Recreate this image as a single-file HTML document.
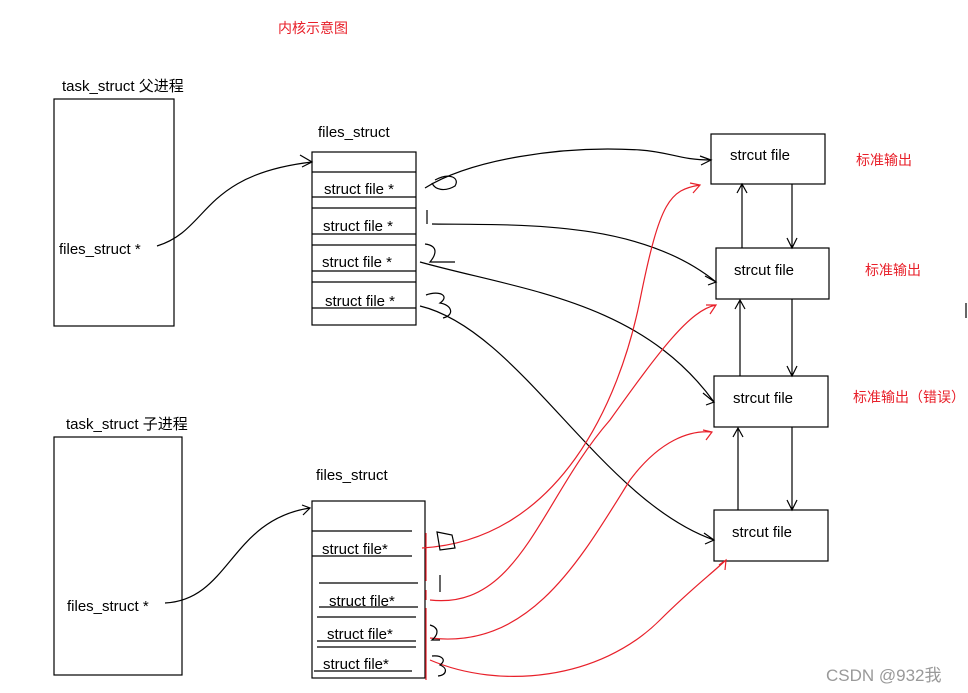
<!DOCTYPE html>
<html><head><meta charset="utf-8"><style>
html,body{margin:0;padding:0;background:#fff;}
svg{display:block;}
text{font-family:"Liberation Sans","Noto Sans CJK SC",sans-serif;font-size:15px;fill:#000;}
.r{fill:#e8202a;font-size:14px;}
</style></head><body>
<svg width="968" height="693" viewBox="0 0 968 693">
<g fill="none" stroke="#000" stroke-width="1.2">
<rect x="54" y="99" width="120" height="227"/>
<rect x="54" y="437" width="128" height="238"/>
<rect x="312" y="152" width="104" height="173"/>
<line x1="312" y1="172" x2="416" y2="172"/>
<line x1="312" y1="197" x2="416" y2="197"/>
<line x1="312" y1="208" x2="416" y2="208"/>
<line x1="312" y1="234" x2="416" y2="234"/>
<line x1="312" y1="245" x2="416" y2="245"/>
<line x1="312" y1="271" x2="416" y2="271"/>
<line x1="312" y1="282" x2="416" y2="282"/>
<line x1="312" y1="308" x2="416" y2="308"/>
<rect x="312" y="501" width="113" height="177"/>
<line x1="312" y1="531" x2="412" y2="531"/>
<line x1="312" y1="556" x2="412" y2="556"/>
<line x1="319" y1="583" x2="418" y2="583"/>
<line x1="319" y1="607" x2="418" y2="607"/>
<line x1="317" y1="617" x2="416" y2="617"/>
<line x1="317" y1="641" x2="416" y2="641"/>
<line x1="317" y1="647" x2="416" y2="647"/>
<line x1="314" y1="671" x2="412" y2="671"/>
<rect x="711" y="134" width="114" height="50"/>
<rect x="716" y="248" width="113" height="51"/>
<rect x="714" y="376" width="114" height="51"/>
<rect x="714" y="510" width="114" height="51"/>
<path d="M742 248 V185 M737 193 L742 184 L747 193"/>
<path d="M792 184 V248 M787 238 L792 248 L797 238"/>
<path d="M740 376 V300 M735 309 L740 300 L745 309"/>
<path d="M792 299 V376 M787 366 L792 376 L797 366"/>
<path d="M738 510 V428 M733 437 L738 428 L743 437"/>
<path d="M792 427 V510 M787 500 L792 510 L797 500"/>
<path d="M157 246 C210 230 200 175 312 162 M300 155 L312 162 L302 167"/>
<path d="M165 603 C230 600 230 520 310 508 M302 505 L310 508 L303 515"/>
<path d="M425 188 C470 160 560 145 640 150 C670 152 680 160 711 160 M700 156 L711 160 L701 165"/>
<path d="M432 224 C520 225 640 220 716 282 M705 276 L716 282 L708 285"/>
<path d="M420 262 C520 290 640 300 714 402 M703 393 L714 402 L706 405"/>
<path d="M420 306 C520 330 600 500 714 540 M704 533 L714 540 L705 544"/>
<path d="M435 180 C450 172 460 178 455 186 C445 192 435 190 432 183"/>
<path d="M427 210 V224"/>
<path d="M425 244 C440 246 435 256 430 262 L455 262"/>
<path d="M426 295 C440 290 450 296 440 303 C452 305 455 315 443 318"/>
</g>
<g fill="none" stroke="#e8202a" stroke-width="1.2">
<path d="M426 533 V581 M426 590 V600 M426 608 V680"/>
<path d="M422 548 C560 540 620 400 640 300 C660 200 670 190 700 185 M690 183 L700 185 L693 193"/>
<path d="M430 600 C520 610 540 500 610 420 C660 350 690 310 716 305 M706 305 L716 305 L710 314"/>
<path d="M430 638 C530 650 580 560 630 480 C660 440 690 430 712 432 M703 430 L712 432 L706 440"/>
<path d="M430 660 C500 690 600 680 660 620 C690 590 710 575 726 560 M719 565 L726 560 L725 570"/>
</g>
<g fill="none" stroke="#000" stroke-width="1.2">
<path d="M437 532 L452 535 L455 548 L440 550 Z"/>
<path d="M440 575 V592"/>
<path d="M430 625 C440 628 438 635 432 640 L440 640"/>
<path d="M432 656 C442 655 447 660 440 665 C448 668 447 675 438 676"/>
<line x1="966" y1="303" x2="966" y2="318"/>
</g>
<text x="278" y="33" class="r">内核示意图</text>
<text x="62" y="91">task_struct 父进程</text>
<text x="66" y="429">task_struct 子进程</text>
<text x="59" y="254">files_struct *</text>
<text x="67" y="611">files_struct *</text>
<text x="318" y="137">files_struct</text>
<text x="316" y="480">files_struct</text>
<text x="324" y="194">struct file *</text>
<text x="323" y="231">struct file *</text>
<text x="322" y="267">struct file *</text>
<text x="325" y="306">struct file *</text>
<text x="322" y="554">struct file*</text>
<text x="329" y="606">struct file*</text>
<text x="327" y="639">struct file*</text>
<text x="323" y="669">struct file*</text>
<text x="730" y="160">strcut file</text>
<text x="734" y="275">strcut file</text>
<text x="733" y="403">strcut file</text>
<text x="732" y="537">strcut file</text>
<text x="856" y="165" class="r">标准输出</text>
<text x="865" y="275" class="r">标准输出</text>
<text x="853" y="402" class="r">标准输出（错误）</text>
<text x="826" y="681" style="fill:#999;font-size:17px">CSDN @932我</text>
</svg>
</body></html>
